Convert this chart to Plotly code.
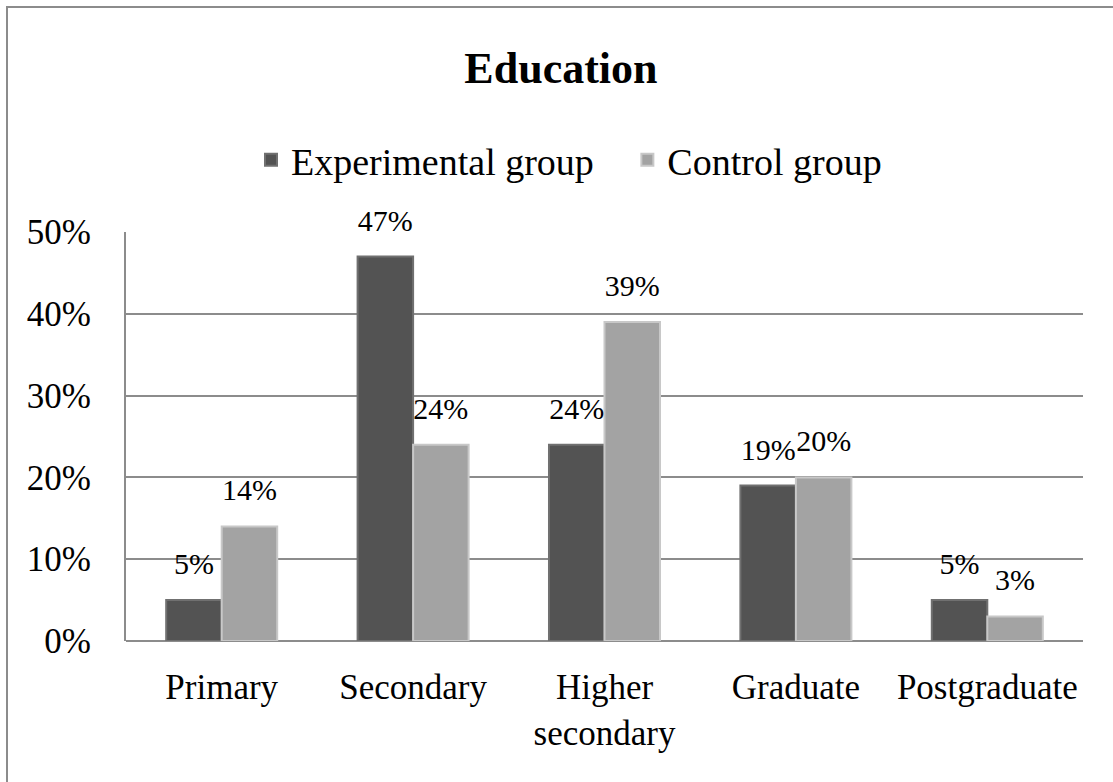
import plotly.graph_objects as go

categories = ["Primary", "Secondary", "Higher<br>secondary", "Graduate", "Postgraduate"]
experimental = [5, 47, 24, 19, 5]
control = [14, 24, 39, 20, 3]
y_ticks = [0, 10, 20, 30, 40, 50]
y_tick_labels = ["0%", "10%", "20%", "30%", "40%", "50%"]

FONT = "Liberation Serif"
DARK, DARK_EDGE = "#535353", "#707070"
LIGHT, LIGHT_EDGE = "#a3a3a3", "#c8c8c8"
NBSP = "\u00a0"

fig = go.Figure()
fig.add_trace(go.Bar(
    x=categories, y=experimental, name="Experimental group" + NBSP * 3,
    marker=dict(color=DARK, line=dict(color=DARK_EDGE, width=2)),
    offsetgroup="exp", alignmentgroup="a",
))
fig.add_trace(go.Bar(
    x=categories, y=control, name="Control group",
    marker=dict(color=LIGHT, line=dict(color=LIGHT_EDGE, width=2)),
    offsetgroup="ctl", alignmentgroup="a",
))
# value labels, placed above the bars
for vals, grp in ((experimental, "exp"), (control, "ctl")):
    fig.add_trace(go.Scatter(
        x=categories, y=vals, mode="markers+text",
        text=[f"{v}%" for v in vals], textposition="top center",
        textfont=dict(family=FONT, size=30, color="black"),
        marker=dict(size=28, opacity=0), showlegend=False, hoverinfo="skip",
        cliponaxis=False, offsetgroup=grp, alignmentgroup="s",
    ))

W, H = 1113, 782
L, R, T, B = 126, 30, 232, 141
pw, ph = W - L - R, H - T - B

fig.update_layout(
    width=W, height=H,
    margin=dict(l=L, r=R, t=T, b=B),
    paper_bgcolor="white", plot_bgcolor="white",
    font=dict(family=FONT, color="black"),
    title=dict(text="<b>Education</b>", x=0.504, xanchor="center", y=1 - 68 / H, yanchor="middle",
               font=dict(family=FONT, size=44, color="black")),
    legend=dict(orientation="h", x=(569 - L) / pw, xanchor="center", y=(H - B - 160) / ph, yanchor="middle",
                font=dict(family=FONT, size=38, color="black"),
                itemwidth=30, tracegroupgap=0),
    barmode="group", bargap=0.42, bargroupgap=0,
    scattermode="group", scattergap=0.42,
    showlegend=True,
)
fig.update_xaxes(tickfont=dict(family=FONT, size=35, color="black"), showline=False,
                 ticks="", showgrid=False, ticklabelstandoff=22)
fig.update_yaxes(range=[0, 50], tickvals=y_ticks, ticktext=y_tick_labels,
                 tickfont=dict(family=FONT, size=35, color="black"),
                 showgrid=True, gridcolor="#8c8c8c", gridwidth=2,
                 showline=True, linecolor="#8c8c8c", linewidth=2,
                 zeroline=True, zerolinecolor="#8c8c8c", zerolinewidth=2,
                 ticks="", ticklabelstandoff=26)

# outer chart border
fig.add_shape(type="rect", xref="paper", yref="paper",
              x0=(7 - L) / pw, x1=(W + 20 - L) / pw,
              y0=-(B + 20) / ph, y1=(H - B - 7) / ph,
              line=dict(color="#8c8c8c", width=2), fillcolor="rgba(0,0,0,0)", layer="below")

fig.write_html("out.html")
